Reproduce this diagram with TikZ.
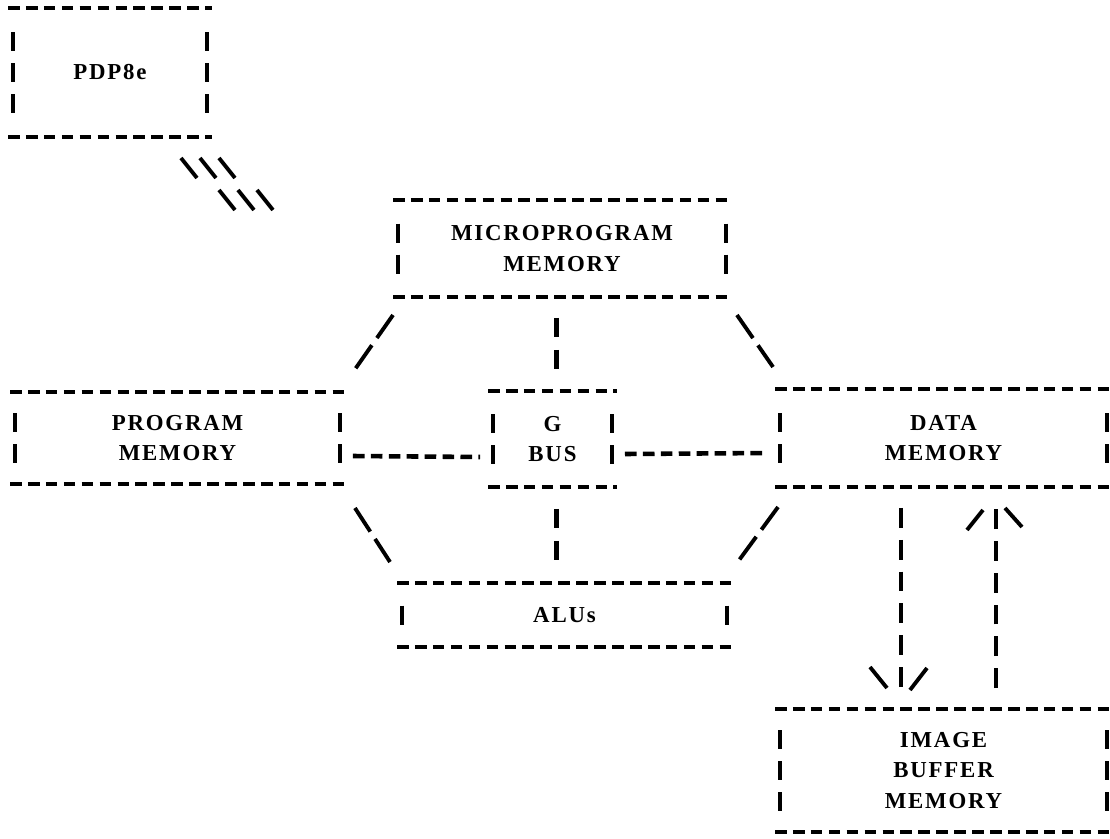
\documentclass[tikz,border=0pt]{standalone}
\usepackage{fontspec}
\newfontfamily\typefont{Liberation Serif}[LetterSpace=8.0]
\usetikzlibrary{calc}
\tikzstyle{unit}=[draw=none,
                  inner sep=0pt,
                  outer sep=0pt,
                  align=center,
                  font={\fontsize{13}{17.5}\typefont\bfseries}]
\tikzstyle{hdash}=[line width=2.6pt, dash pattern=on 6.6pt off 3.6pt]
\tikzstyle{bar}=[line width=2.3pt]
\tikzstyle{vdash}=[line width=2.3pt, dash pattern=on 10.8pt off 7.4pt]
\tikzstyle{shaft}=[line width=2.3pt, dash pattern=on 11.3pt off 6.8pt]
\tikzstyle{sdash}=[line width=2.2pt, dash pattern=on 16pt off 5pt]
\tikzstyle{glyph}=[line width=2.2pt]
% typed frame: rows of hyphens, one bar per text line
\newcommand{\typedbox}[2]{%
  \draw[hdash] (#1.north west) -- (#1.north east);
  \draw[hdash] (#1.south west) -- (#1.south east);
  \foreach \r in {1,...,#2} {
    \draw[bar] ($(#1.west)+(5,{(\r-(#2+1)/2)*31-9.5})$) -- ++(0,19);
    \draw[bar] ($(#1.east)+(-5,{(\r-(#2+1)/2)*31-9.5})$) -- ++(0,19);
  }}

\begin{document}
\begin{tikzpicture}[x=0.02cm,y=-0.02cm]
      \useasboundingbox (0,0) rectangle (1110,839);

      \node[unit, minimum width=4.08cm, minimum height=2.58cm] (pdp)     at (110,72.5)    {PDP8e};
      \node[unit, minimum width=6.76cm, minimum height=1.94cm] (micro)   at (562,248.5)   {MICROPROGRAM\\MEMORY};
      \node[unit, minimum width=6.70cm, minimum height=1.84cm] (program) at (177.5,438)   {PROGRAM\\MEMORY};
      \node[unit, minimum width=2.58cm, minimum height=1.92cm] (gbus)    at (552.5,439)   {G\\BUS};
      \node[unit, minimum width=6.74cm, minimum height=1.96cm] (data)    at (943.5,438)   {DATA\\MEMORY};
      \node[unit, minimum width=6.70cm, minimum height=1.28cm] (alus)    at (564.5,615)   {ALUs};
      \node[unit, minimum width=6.74cm, minimum height=2.46cm] (image)   at (943.5,770.5) {IMAGE\\BUFFER\\MEMORY};

      \typedbox{pdp}{3}
      \typedbox{micro}{2}
      \typedbox{program}{2}
      \typedbox{gbus}{2}
      \typedbox{data}{2}
      \typedbox{alus}{1}
      \typedbox{image}{3}

      % link from the PDP8e
      \coordinate (bus) at ($(pdp.south east)+(-31,21)$);
      \foreach \i in {0,1,2} {
        \draw[glyph] ($(bus)+(19*\i,0)$) -- ++(16,20);
        \draw[glyph] ($(bus)+(38+19*\i,32)$) -- ++(16,20);
      }

      % bus lines
      \draw[hdash] ($(program.east)+(8,18)$) -- ($(gbus.west)+(-8,18)$);
      \draw[hdash] ($(gbus.east)+(8,15)$) -- ($(data.west)+(-8,15)$);
      \draw[vdash] ($(gbus.north |- micro.south)+(4,21)$) -- ($(gbus.north)+(4,-22)$);
      \draw[vdash] ($(gbus.south)+(4,22)$) -- ($(gbus.south |- alus.north)+(4,-20)$);
      \draw[sdash] ($(micro.south west)+(0,18)$) -- ($(program.north east)+(6,-17)$);
      \draw[sdash] ($(micro.south east)+(6,18)$) -- ($(data.north west)+(-2,-22)$);
      \draw[sdash] ($(program.south east)+(10,24)$) -- ($(alus.north west)+(-7,-21)$);
      \draw[sdash] ($(data.south west)+(3,20)$) -- ($(alus.north east)+(5,-20)$);

      % data memory <-> image buffer
      \draw[shaft] ($(data.south)+(-42.5,21)$) -- ($(data.south |- image.north)+(-42.5,-21)$) coordinate (dtip);
      \draw[glyph] ($(dtip)+(-31,-21)$) -- ++(17,21);
      \draw[glyph] ($(dtip)+(26,-20)$) -- ++(-17,22);
      \draw[shaft] ($(image.north)+(52.5,-21)$) -- ($(image.north |- data.south)+(52.5,21)$) coordinate (utip);
      \draw[glyph] ($(utip)+(-29,22)$) -- ++(16,-20);
      \draw[glyph] ($(utip)+(9,0)$) -- ++(17,19);
\end{tikzpicture}
\end{document}
